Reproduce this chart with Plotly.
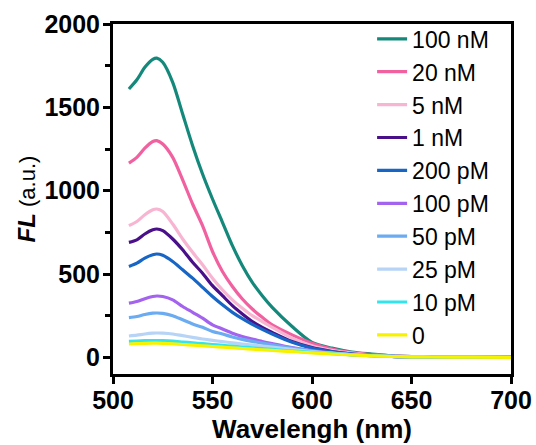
import plotly.graph_objects as go

wavelength = [508, 512, 516, 520, 522, 525, 530, 535, 540, 545, 550, 555, 560, 565, 570,
              575, 580, 590, 600, 610, 620, 630, 640, 650, 660, 680, 700]

fl_100nM = [1610, 1665, 1740, 1788, 1795, 1770, 1650, 1460, 1270, 1100, 950, 810, 670, 550, 450,
            370, 300, 185, 90, 55, 32, 20, 10, 5, 3, 2, 1]
fl_20nM = [1165, 1200, 1255, 1295, 1300, 1280, 1200, 1065, 920, 790, 635, 515, 425, 350, 290,
           240, 195, 135, 85, 50, 28, 16, 9, 4, 2, 1, 0]
fl_5nM = [790, 815, 855, 885, 890, 875, 800, 710, 630, 555, 475, 405, 345, 295, 250,
          215, 180, 115, 70, 42, 25, 14, 8, 4, 2, 1, 0]
fl_1nM = [690, 705, 740, 765, 770, 760, 710, 645, 570, 505, 430, 370, 310, 260, 215,
          180, 150, 95, 58, 35, 20, 12, 6, 3, 2, 1, 0]
fl_200pM = [545, 565, 595, 615, 620, 612, 575, 525, 475, 420, 365, 315, 270, 232, 198,
            168, 140, 90, 55, 33, 20, 12, 6, 3, 2, 1, 0]
fl_100pM = [325, 335, 352, 365, 368, 365, 345, 305, 270, 235, 195, 170, 145, 125, 110,
            95, 82, 58, 40, 26, 16, 10, 6, 3, 2, 1, 0]
fl_50pM = [238, 245, 257, 265, 266, 264, 250, 225, 200, 180, 155, 140, 122, 108, 96,
           85, 75, 55, 38, 25, 16, 10, 6, 3, 2, 1, 0]
fl_25pM = [128, 133, 140, 145, 146, 145, 140, 130, 120, 110, 102, 94, 87, 80, 74,
           68, 62, 48, 35, 25, 16, 10, 6, 3, 2, 1, 0]
fl_10pM = [96, 98, 100, 101, 101, 100, 97, 92, 87, 82, 77, 72, 67, 62, 57,
           52, 48, 38, 30, 22, 15, 10, 6, 3, 2, 1, 0]
fl_0 = [80, 82, 84, 85, 85, 84, 81, 77, 73, 69, 65, 61, 57, 53, 49,
        45, 42, 34, 27, 20, 14, 9, 5, 3, 2, 1, 0]

series_names = ["100 nM", "20 nM", "5 nM", "1 nM", "200 pM", "100 pM", "50 pM", "25 pM", "10 pM", "0"]
series_values = [fl_100nM, fl_20nM, fl_5nM, fl_1nM, fl_200pM, fl_100pM, fl_50pM, fl_25pM, fl_10pM, fl_0]
series_colors = ["#14897b", "#f2619f", "#f8b5d2", "#4a108a", "#1766c6", "#a463ee",
                 "#6babf1", "#b7d4f6", "#33e4ec", "#f6f200"]

x_ticks = [500, 550, 600, 650, 700]
y_ticks = [0, 500, 1000, 1500, 2000]
y_minor = [250, 750, 1250, 1750]

FONT = "Liberation Sans, Arial, sans-serif"

fig = go.Figure()
for name, vals, col in zip(series_names, series_values, series_colors):
    fig.add_trace(go.Scatter(x=wavelength, y=vals, name=name, mode="lines",
                             line=dict(color=col, width=3.2, shape="spline", smoothing=0.8)))

fig.update_layout(
    width=536, height=445, autosize=False,
    margin=dict(l=113, r=25, t=24, b=71),
    paper_bgcolor="white", plot_bgcolor="white",
    font=dict(family=FONT, color="black"),
    showlegend=True,
    legend=dict(x=0.651, y=1.019, xanchor="left", yanchor="top",
                bgcolor="rgba(0,0,0,0)", borderwidth=0, maxheight=440,
                font=dict(size=23, family=FONT),
                tracegroupgap=0, itemwidth=30),
)
fig.update_xaxes(
    range=[500, 700], tickvals=x_ticks, ticktext=[f"<b>{v}</b>" for v in x_ticks],
    showline=True, linecolor="black", linewidth=3, mirror=True,
    ticks="outside", ticklen=7, tickwidth=3, tickcolor="black",
    showgrid=False, zeroline=False, automargin=False, ticklabelstandoff=-5,
    tickfont=dict(size=25, family=FONT),
    title=dict(text="<b>Wavelengh (nm)</b>", font=dict(size=26), standoff=6),
)
fig.update_yaxes(
    range=[-100, 2000], tickvals=y_ticks, ticktext=[f"<b>{v}</b>" for v in y_ticks],
    showline=True, linecolor="black", linewidth=3, mirror=True,
    ticks="outside", ticklen=7, tickwidth=3, tickcolor="black",
    minor=dict(tickvals=y_minor, ticks="outside", ticklen=5, tickwidth=2.5, tickcolor="black"),
    showgrid=False, zeroline=False, automargin=False, ticklabelstandoff=-2,
    tickfont=dict(size=25, family=FONT),
    title=dict(text="<b><i>FL</i></b><span style='font-size:22px'> (a.u.)</span>", font=dict(size=24), standoff=2),
)

fig.write_html("out.html", config={"displayModeBar": False},
               post_script="document.body.style.margin='0';")
